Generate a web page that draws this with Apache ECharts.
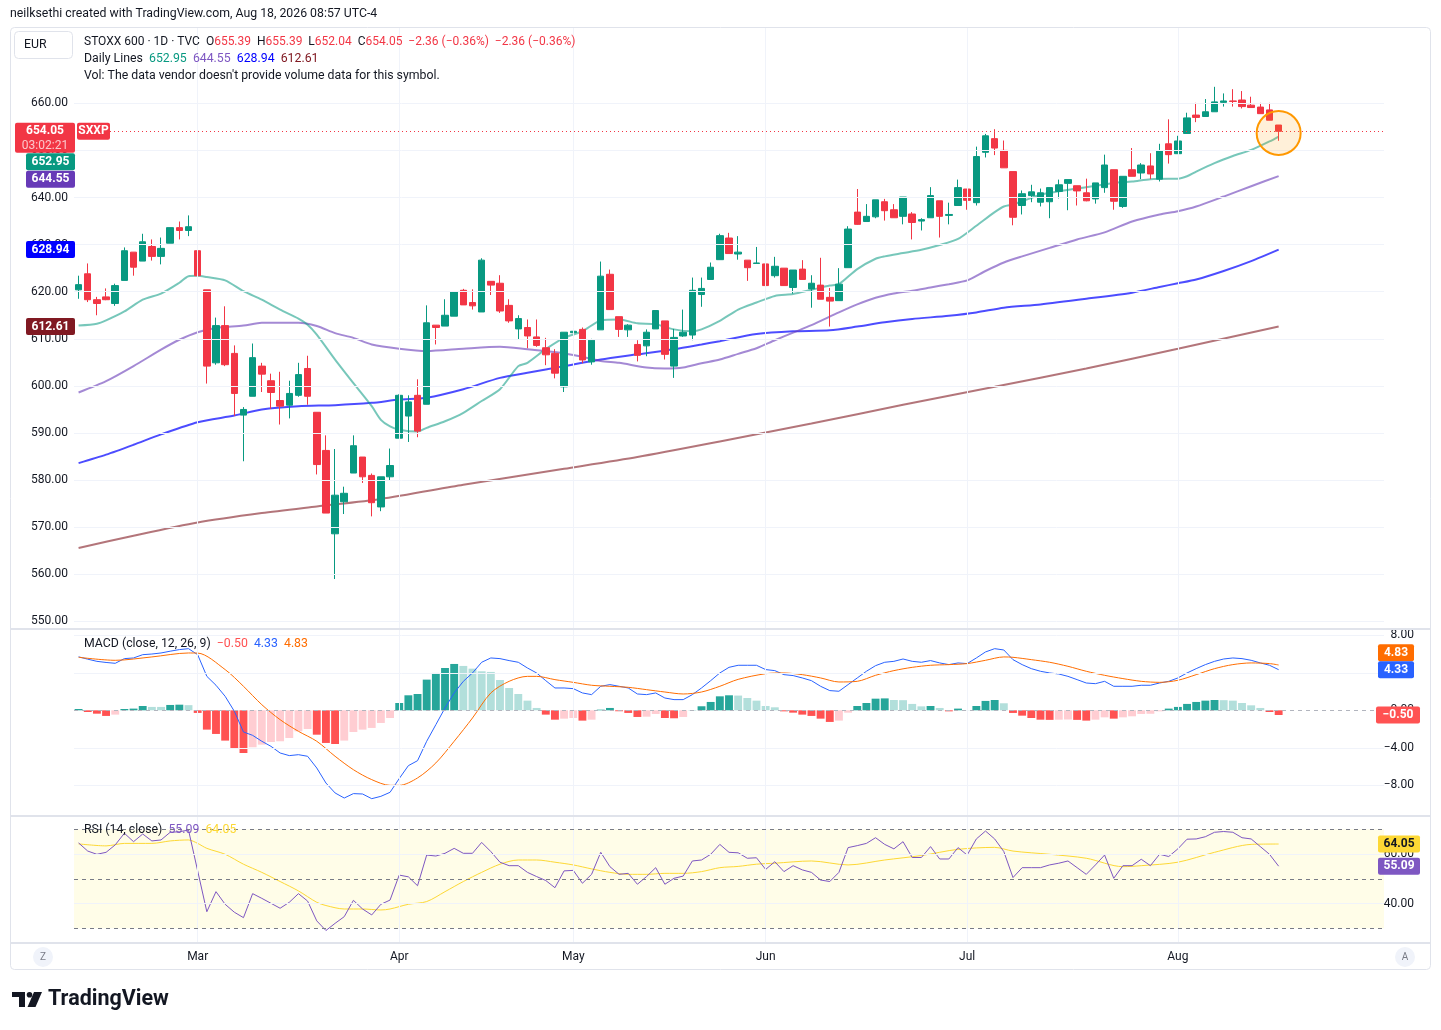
<!DOCTYPE html>
<html>
<head>
<meta charset="utf-8">
<title>STOXX 600 · 1D · TVC</title>
<script src="https://cdn.jsdelivr.net/npm/echarts@6/dist/echarts.min.js"></script>
<style>
html, body { margin: 0; padding: 0; background: #fff; }
#chart { width: 1441px; height: 1030px; }
</style>
</head>
<body>
<div id="chart"></div>
<script>
// bars per month on the time axis (Feb 11 .. Aug 18), plus empty space on the right
var monthNames = ['Feb', 'Mar', 'Apr', 'May', 'Jun', 'Jul', 'Aug'];
var monthBars = [13, 22, 19, 21, 22, 23, 12];
var emptySlots = 11;

var openP = [620.4,623.8,618.3,618.9,617.5,622.4,628.4,626.5,629.6,627.5,630.3,633.6,633.0,628.7,620.4,604.9,612.8,606.9,593.8,597.8,
  604.2,601.1,596.9,595.9,598.0,603.7,594.4,586.3,568.6,575.4,581.5,584.9,581.0,574.3,580.7,588.9,593.6,598.0,596.1,612.9,
  612.7,614.8,620.3,617.7,615.7,622.2,621.8,617.1,612.1,612.4,610.4,608.1,606.9,599.8,611.3,612.0,605.1,611.9,623.7,614.7,
  611.9,608.8,608.5,612.1,613.8,604.2,610.6,610.8,619.4,622.6,626.8,631.4,628.0,626.7,626.0,625.9,623.4,625.0,620.9,624.8,
  620.6,621.4,618.8,618.1,625.1,636.9,634.9,635.9,639.1,637.4,636.0,636.5,635.0,635.7,639.3,636.2,638.3,641.8,638.9,649.6,
  652.5,650.0,645.5,638.3,640.4,639.0,639.1,641.3,643.0,642.5,641.0,639.7,642.1,645.9,638.1,645.9,645.2,646.7,643.9,651.4,
  649.3,653.6,657.5,657.2,658.2,660.2,660.5,660.7,659.6,659.2,658.6,655.39];
var highP = [623.4,626.0,618.9,620.7,621.7,629.4,628.4,632.3,631.1,631.5,633.6,634.9,636.2,628.7,620.4,614.5,616.9,608.6,595.5,609.0,
  604.9,602.6,603.0,601.1,604.9,606.4,594.4,589.5,586.6,578.6,589.5,584.9,581.4,580.7,586.7,598.2,598.0,601.4,617.1,612.9,
  618.4,620.0,620.6,620.5,627.1,622.2,623.5,618.4,615.0,614.1,614.1,610.2,607.8,611.4,611.6,612.4,610.0,626.4,624.7,614.7,
  613.1,609.7,612.0,616.0,613.8,612.1,616.2,623.0,623.0,626.2,632.3,632.5,631.8,626.7,629.5,626.1,627.4,625.0,624.6,626.7,
  623.5,627.2,620.8,625.0,633.9,641.8,638.6,639.5,639.7,638.6,640.1,636.9,635.6,642.2,639.3,638.9,643.8,641.8,650.8,653.5,
  654.5,652.1,645.5,641.5,642.7,641.9,642.1,643.8,643.8,642.5,644.0,643.1,649.1,645.9,644.5,650.5,647.3,649.4,651.4,656.6,
  653.1,658.0,660.1,660.9,663.5,662.1,663.0,662.6,661.4,660.1,660.1,655.39];
var lowP = [618.5,617.8,615.0,618.2,617.0,622.4,623.4,626.5,626.6,625.8,630.3,631.1,631.8,621.3,600.5,604.5,604.2,593.6,584.0,597.8,
  598.7,595.1,591.8,593.1,597.7,596.0,581.2,573.0,559.0,572.8,581.5,579.4,572.3,573.4,580.0,588.9,588.1,589.1,596.1,608.8,
  612.7,614.8,617.2,616.2,615.7,619.3,615.5,613.4,609.9,608.0,608.3,604.4,601.6,598.7,610.4,604.8,604.5,611.9,616.2,610.4,
  610.4,605.2,606.3,612.1,605.6,601.7,610.4,609.7,616.8,622.6,626.8,628.1,626.8,622.3,626.0,619.0,623.0,621.3,619.6,622.6,
  616.6,618.4,612.6,618.1,625.1,634.2,634.9,635.6,635.1,635.7,634.3,631.1,633.0,635.7,631.5,634.3,638.3,637.4,638.3,648.5,
  649.0,646.3,634.1,636.4,639.0,638.1,635.6,639.8,637.3,638.3,639.2,638.7,641.0,637.4,637.8,644.5,643.9,643.9,643.4,647.2,
  649.3,653.6,656.0,657.2,658.2,659.3,659.3,658.9,659.1,657.8,656.4,652.04];
var closeP = [621.5,618.3,617.5,618.3,621.3,628.7,625.2,630.6,627.5,629.2,633.6,633.0,633.8,623.4,604.2,612.8,604.5,598.4,595.0,606.0,
  602.5,598.6,595.7,598.4,602.4,597.8,583.3,573.0,576.8,577.2,587.3,580.7,575.2,580.7,583.1,598.0,596.6,590.4,613.4,612.4,
  615.0,620.0,617.2,617.0,626.7,621.4,615.9,613.8,614.3,610.6,608.6,606.6,602.7,611.4,611.6,605.5,609.7,623.3,616.2,612.0,
  612.9,606.5,611.4,616.0,606.7,610.3,611.4,620.3,620.7,625.2,631.9,628.1,628.4,625.1,626.1,621.3,625.4,621.3,624.6,622.6,
  621.8,618.4,618.0,621.6,633.3,634.3,636.0,639.5,637.2,635.7,640.1,634.7,635.3,640.4,636.0,636.4,642.1,639.4,648.7,653.1,
  650.5,646.3,635.8,640.8,641.2,641.0,642.1,642.7,643.8,641.4,639.3,643.1,646.9,639.2,644.5,644.5,646.9,645.0,649.9,649.1,
  652.0,656.9,657.0,658.2,660.3,660.5,660.4,659.3,659.1,657.8,656.41,654.05];

// daily moving-average lines, read as [bar, price]
var ma20Pts = [[0,612.8],[2,613.2],[3,613.9],[5,615.8],[7,618.3],[9,619.6],[11,621.9],[12,623.3],[13,623.4],[14,623.1],[16,622.4],
  [18,620.1],[20,618.3],[22,616.2],[24,614.3],[25,613.0],[26,610.9],[28,605.6],[30,600.6],[32,595.7],[33,592.8],[34,591.4],
  [35,590.7],[37,590.3],[38,591.1],[40,592.5],[42,594.3],[44,596.8],[46,599.3],[48,604.2],[49,604.9],[51,607.8],[53,610.2],
  [55,611.6],[57,613.9],[59,614.1],[61,613.3],[63,613.1],[65,612.0],[67,611.6],[68,612.0],[70,613.8],[72,616.2],[74,617.7],
  [76,619.1],[78,619.5],[80,620.4],[82,621.3],[83,621.6],[85,624.8],[87,627.0],[88,627.5],[90,628.2],[92,628.9],[94,629.9],
  [96,631.2],[98,634.0],[100,636.9],[101,638.1],[102,638.5],[103,639.2],[105,640.6],[107,641.3],[109,641.9],[111,642.5],
  [113,643.1],[115,643.4],[117,643.9],[119,644.0],[120,644.0],[121,644.5],[122,645.5],[124,647.3],[126,648.8],[128,650.1],
  [130,651.9],[131,652.95]];
var ma50Pts = [[0,598.6],[3,601.0],[6,604.2],[9,607.7],[11,609.8],[13,611.4],[15,612.3],[18,612.8],[20,613.4],[24,613.4],[26,612.7],
  [28,611.2],[30,610.2],[32,608.8],[35,607.9],[38,607.4],[42,607.9],[46,608.3],[49,607.8],[51,607.4],[53,606.9],[55,606.2],
  [57,605.3],[59,604.9],[62,603.9],[64,603.7],[66,603.9],[68,604.8],[70,605.6],[72,606.8],[74,608.0],[76,609.7],[78,611.3],
  [80,612.9],[83,615.6],[85,617.3],[87,618.7],[89,619.6],[91,620.2],[93,620.9],[95,621.6],[97,622.4],[99,624.4],[101,626.2],
  [103,627.5],[106,629.3],[109,631.1],[112,632.6],[115,634.9],[118,636.4],[120,637.1],[122,638.1],[125,640.2],[128,642.4],
  [131,644.55]];
var ma100Pts = [[0,583.6],[3,585.4],[6,587.5],[9,589.7],[13,592.3],[17,593.7],[20,595.0],[24,595.7],[28,595.9],[32,596.4],[35,597.1],
  [38,597.5],[42,599.3],[46,601.7],[49,602.8],[53,604.2],[57,605.6],[61,606.7],[65,607.8],[68,608.8],[70,609.5],[74,611.0],
  [78,611.6],[82,611.8],[85,612.6],[88,613.5],[91,614.2],[95,614.9],[98,615.6],[101,616.6],[105,617.3],[110,618.5],[115,619.8],
  [118,621.0],[120,621.8],[122,622.6],[125,624.4],[128,626.5],[131,628.94]];
var ma200Pts = [[0,565.6],[6,568.2],[13,571.0],[20,573.0],[26,574.4],[33,576.0],[42,579.0],[53,582.4],[61,584.9],[70,588.2],
  [80,592.0],[90,596.0],[100,599.8],[110,603.7],[120,607.9],[131,612.61]];

// MACD (12, 26, 9)
var macdHist = [0.14,-0.18,-0.36,-0.6,-0.46,0.14,0.18,0.46,0.36,0.36,0.57,0.6,0.55,-0.28,-2.06,-2.52,-3.23,-4.02,-4.55,-3.94,
  -3.66,-3.38,-3.3,-2.95,-2.24,-1.99,-2.6,-3.48,-3.59,-3.23,-2.31,-2.06,-1.88,-1.35,-0.82,0.78,1.6,1.74,3.27,3.98,
  4.51,4.94,4.73,4.44,4.16,4.09,3.23,2.38,1.74,1.03,0.25,-0.46,-1.0,-0.89,-0.82,-1.1,-1.0,0.07,0.25,-0.1,
  -0.28,-0.71,-0.68,-0.39,-0.82,-0.85,-0.71,0.02,0.43,0.89,1.49,1.6,1.57,1.31,1.03,0.46,0.32,-0.11,-0.25,-0.46,
  -0.6,-0.89,-1.24,-1.1,-0.25,0.46,0.78,1.24,1.27,1.1,1.08,0.68,0.42,0.46,0.25,-0.11,0.18,0.02,0.46,1.0,
  1.1,0.75,-0.28,-0.57,-0.82,-1.0,-1.02,-1.0,-0.98,-1.02,-1.1,-1.0,-0.75,-0.89,-0.75,-0.64,-0.39,-0.37,-0.11,0.18,
  0.36,0.68,0.89,1.03,1.1,1.08,1.03,0.78,0.53,0.25,-0.18,-0.50];
var macdLine = [5.7,5.45,5.22,5.1,5.01,5.51,5.58,5.93,6.0,6.11,6.3,6.47,6.57,5.93,3.62,2.67,1.49,-0.1,-2.31,-2.67,
  -3.3,-3.84,-4.55,-4.83,-4.73,-4.9,-6.15,-7.75,-8.81,-9.35,-8.88,-8.92,-9.42,-9.17,-8.74,-7.28,-5.9,-5.37,-3.3,-1.53,
  0.25,1.85,3.09,3.98,5.12,5.58,5.51,5.3,5.12,4.51,3.98,3.16,2.38,2.38,2.31,1.85,1.67,2.56,2.74,2.56,
  2.38,1.74,1.67,1.85,1.31,1.14,1.14,1.67,2.38,3.16,3.98,4.58,4.8,4.8,4.8,4.34,4.23,3.8,3.7,3.45,
  3.16,2.56,2.1,2.03,2.74,3.45,4.16,4.76,5.12,5.22,5.47,5.22,5.12,5.3,5.05,4.87,5.05,4.98,5.58,6.22,
  6.57,6.43,5.4,4.87,4.44,4.16,3.98,3.87,3.62,3.27,2.91,2.84,3.09,2.56,2.56,2.56,2.67,2.67,2.91,3.09,
  3.45,3.98,4.44,4.87,5.22,5.47,5.58,5.51,5.33,5.05,4.8,4.33];
var signalPts = [[0,5.65],[4,5.33],[8,5.69],[12,6.11],[13,6.1],[16,4.34],[18,2.56],[20,0.6],[22,-1.0],[24,-2.24],[26,-3.3],
  [28,-4.9],[30,-6.33],[32,-7.39],[34,-8.0],[35,-8.0],[37,-7.21],[39,-5.61],[41,-3.3],[43,-0.82],[45,1.85],[47,3.09],
  [49,3.62],[50,3.62],[52,3.27],[54,2.98],[56,2.67],[58,2.56],[60,2.45],[62,2.2],[64,1.95],[66,1.74],[68,1.95],[70,2.56],
  [72,3.3],[75,3.9],[77,3.98],[79,3.8],[81,3.45],[83,3.02],[85,3.09],[87,3.73],[89,4.23],[91,4.58],[93,4.8],[95,4.87],
  [97,4.98],[99,5.33],[101,5.69],[102,5.65],[104,5.4],[106,5.12],[108,4.69],[110,4.16],[112,3.73],[114,3.38],[116,3.09],
  [118,2.98],[120,3.2],[122,3.8],[124,4.44],[126,4.87],[128,5.05],[130,4.98],[131,4.83]];

// RSI (14) and its moving average
var rsiLine = [64.5,61.2,59.9,60.7,63.7,68.4,65.0,68.1,65.3,65.7,68.8,69.0,69.7,53.2,36.7,44.8,39.7,36.5,34.3,44.0,
  42.1,40.1,38.1,40.5,44.0,41.0,33.0,29.1,32.0,34.7,41.3,37.8,35.4,39.7,41.4,51.5,50.8,47.2,59.6,59.2,
  60.3,62.3,60.3,60.3,64.7,61.0,56.7,55.3,55.3,52.6,50.9,49.3,46.4,53.2,53.4,48.2,51.8,60.7,54.9,51.8,
  52.2,47.8,50.9,54.5,47.8,50.2,51.1,57.2,57.6,59.9,63.9,60.7,60.5,58.3,58.5,53.8,56.9,52.9,55.3,53.6,
  52.6,49.5,48.9,52.6,62.6,63.4,64.3,66.6,63.9,62.1,65.0,58.6,58.6,63.0,58.0,58.0,62.6,59.6,66.1,69.3,
  66.1,61.0,50.5,54.5,54.5,54.5,55.6,56.3,57.2,54.5,51.8,55.6,59.6,50.2,55.3,55.3,57.9,55.3,59.9,59.0,
  62.1,66.0,66.1,67.0,68.8,69.1,68.8,66.6,66.1,63.0,59.9,55.09];
var rsiMaPts = [[0,64.1],[3,63.3],[5,64.3],[8,64.3],[10,65.3],[12,65.7],[13,64.3],[14,62.3],[16,59.9],[18,55.9],[20,52.6],
  [22,48.9],[24,45.1],[26,40.5],[27,39.2],[29,37.8],[31,37.8],[33,37.4],[34,37.8],[36,39.7],[38,40.8],[40,44.8],[42,48.9],
  [44,52.6],[46,55.9],[48,57.6],[50,57.6],[52,56.7],[54,55.6],[56,54.0],[58,52.6],[60,51.8],[62,51.8],[64,52.2],[66,52.2],
  [68,52.9],[70,54.5],[72,55.0],[74,55.9],[76,56.3],[80,57.2],[84,55.6],[88,57.6],[92,59.4],[96,61.9],[100,62.7],
  [102,61.2],[106,59.9],[110,58.3],[114,54.9],[116,55.3],[120,56.7],[124,60.7],[128,63.9],[131,64.05]];

// axis ticks
var priceTicks = [550, 560, 570, 580, 590, 600, 610, 620, 630, 640, 650, 660];
var macdTicks = [8, 4, 0, -4, -8];
var rsiTicks = [60, 40];

var FONT = 'Roboto, "Liberation Sans", sans-serif';
var LEG = '12.3px ' + FONT;
var TXT = '#131722';
var UP = '#089981', DOWN = '#f23645';

var categories = [];
var monthStarts = [];
(function () {
    for (var m = 0; m < monthNames.length; m++) {
        if (m > 0) monthStarts.push(categories.length);
        for (var k = 1; k <= monthBars[m]; k++) categories.push(monthNames[m] + ' ' + k);
    }
    for (var e = 1; e <= emptySlots; e++) categories.push('next ' + e);
})();

function fmt(v) {
    return (v < 0 ? '\u2212' : '') + Math.abs(v).toFixed(2);
}

function histColor(i) {
    var v = macdHist[i], p = i > 0 ? macdHist[i - 1] : 0;
    if (v >= 0) return p < v ? '#26a69a' : '#b2dfdb';
    return p < v ? '#ffcdd2' : '#ff5252';
}

function gridLines(values, months) {
    var d = [];
    values.forEach(function (v) { d.push({ yAxis: v }); });
    if (months) monthStarts.forEach(function (i) { d.push({ xAxis: categories[i] }); });
    return d;
}

var candleData = openP.map(function (o, i) {
    return [o, closeP[i], lowP[i], highP[i]];
});
var histData = macdHist.map(function (v, i) {
    return { value: v, itemStyle: { color: histColor(i) } };
});

function maLine(name, pts, color) {
    return {
        name: name, type: 'line', xAxisIndex: 0, yAxisIndex: 0, z: 2,
        data: pts, showSymbol: false, smooth: 0.25,
        lineStyle: { color: color, width: 2 }
    };
}

var gridLineStyle = { color: '#f0f3fa', width: 1, type: 'solid' };

var option = {
    animation: false,
    textStyle: { fontFamily: FONT },
    grid: [
        { left: 74, width: 1310, top: 27, height: 601 },
        { left: 74, width: 1310, top: 630, height: 185 },
        { left: 74, width: 1310, top: 817, height: 125 }
    ],
    xAxis: [0, 1, 2].map(function (g) {
        return {
            type: 'category', gridIndex: g, data: categories, boundaryGap: true,
            axisLine: { show: false }, axisTick: { show: false }, splitLine: { show: false },
            axisLabel: {
                show: g === 2, color: TXT, fontSize: 12, margin: 9,
                interval: function (index) { return monthStarts.indexOf(index) >= 0; },
                formatter: function (v) { return v.split(' ')[0]; }
            }
        };
    }),
    yAxis: [
        {
            gridIndex: 0, type: 'value', position: 'left', min: 548.6, max: 676.2,
            axisLine: { show: false }, axisTick: { show: false }, splitLine: { show: false },
            axisLabel: { customValues: priceTicks, formatter: fmt, color: TXT, fontSize: 12, margin: 6 }
        },
        {
            gridIndex: 1, type: 'value', position: 'right', min: -11.16, max: 8.56,
            axisLine: { show: false }, axisTick: { show: false }, splitLine: { show: false },
            axisLabel: { customValues: macdTicks, formatter: fmt, color: TXT, fontSize: 12, align: 'right', margin: 30 }
        },
        {
            gridIndex: 2, type: 'value', position: 'right', min: 24.46, max: 74.97,
            axisLine: { show: false }, axisTick: { show: false }, splitLine: { show: false },
            axisLabel: { customValues: rsiTicks, formatter: fmt, color: TXT, fontSize: 12, align: 'right', margin: 30 }
        }
    ],
    series: [
        {
            type: 'line', xAxisIndex: 0, yAxisIndex: 0, data: [], z: 1,
            markLine: { silent: true, symbol: 'none', label: { show: false }, lineStyle: gridLineStyle, data: gridLines(priceTicks, true) }
        },
        maLine('MA200', ma200Pts, 'rgba(128,25,34,0.6)'),
        maLine('MA100', ma100Pts, 'rgba(0,0,255,0.7)'),
        maLine('MA50', ma50Pts, 'rgba(103,58,183,0.6)'),
        maLine('MA20', ma20Pts, 'rgba(8,153,129,0.55)'),
        {
            name: 'SXXP', type: 'candlestick', xAxisIndex: 0, yAxisIndex: 0, z: 3,
            data: candleData, barWidth: 7,
            itemStyle: { color: UP, color0: DOWN, borderColor: UP, borderColor0: DOWN, borderWidth: 1 },
            markLine: {
                silent: true, symbol: 'none', label: { show: false },
                lineStyle: { color: DOWN, width: 1, type: [1, 3] },
                data: [{ yAxis: closeP[closeP.length - 1] }]
            }
        },
        // MACD pane
        {
            type: 'line', xAxisIndex: 1, yAxisIndex: 1, data: [], z: 1,
            markLine: {
                silent: true, symbol: 'none', label: { show: false }, lineStyle: gridLineStyle,
                data: gridLines([8, 4, -4, -8], true).concat([{ yAxis: 0, lineStyle: { color: '#b2b5be', type: [4, 4] } }])
            }
        },
        { name: 'Histogram', type: 'bar', xAxisIndex: 1, yAxisIndex: 1, data: histData, barWidth: '86%', z: 2 },
        {
            name: 'MACD', type: 'line', xAxisIndex: 1, yAxisIndex: 1, data: macdLine, z: 3,
            showSymbol: false, lineStyle: { color: '#2962ff', width: 1 }
        },
        {
            name: 'Signal', type: 'line', xAxisIndex: 1, yAxisIndex: 1, data: signalPts, z: 3,
            showSymbol: false, smooth: 0.3, lineStyle: { color: '#ff6d00', width: 1 }
        },
        // RSI pane
        {
            type: 'line', xAxisIndex: 2, yAxisIndex: 2, data: [], z: 1,
            markArea: { silent: true, itemStyle: { color: '#fffde8' }, data: [[{ yAxis: 30 }, { yAxis: 70 }]] },
            markLine: {
                silent: true, symbol: 'none', label: { show: false }, lineStyle: gridLineStyle,
                data: gridLines(rsiTicks, true).concat([70, 50, 30].map(function (v) {
                    return { yAxis: v, lineStyle: { color: '#787b86', type: [4, 4] } };
                }))
            }
        },
        {
            name: 'RSI-based MA', type: 'line', xAxisIndex: 2, yAxisIndex: 2, data: rsiMaPts, z: 2,
            showSymbol: false, smooth: 0.3, lineStyle: { color: '#fdd835', width: 1 }
        },
        {
            name: 'RSI', type: 'line', xAxisIndex: 2, yAxisIndex: 2, data: rsiLine, z: 3,
            showSymbol: false, lineStyle: { color: '#7e57c2', width: 1 }
        }
    ]
};

var chart = echarts.init(document.getElementById('chart'), null, { renderer: 'canvas' });
chart.setOption(option);

// ---- texts, frame and axis tags ----
function txt(x, y, text, style) {
    var s = { x: x, y: y, text: text, fill: TXT, font: LEG, textVerticalAlign: 'middle' };
    for (var k in style) s[k] = style[k];
    return { type: 'text', z: 100, style: s };
}
function rich(x, y, text, colors, font) {
    var f = font || LEG;
    var r = {};
    for (var k in colors) r[k] = { fill: colors[k], font: f };
    return { type: 'text', z: 100, style: { x: x, y: y, textVerticalAlign: 'middle', font: f, fill: TXT, text: text, rich: r } };
}
function tag(x, yc, w, h, color, label, textColor) {
    return {
        type: 'group', z: 110, children: [
            { type: 'rect', z: 110, shape: { x: x, y: yc - h / 2, width: w, height: h, r: 2 }, style: { fill: color } },
            { type: 'text', z: 111, style: { x: x + w / 2, y: yc, text: label, fill: textColor || '#fff', font: 'bold 12px ' + FONT, textAlign: 'center', textVerticalAlign: 'middle' } }
        ]
    };
}
function hline(y) {
    return { type: 'line', z: 90, shape: { x1: 10, y1: y, x2: 1431, y2: y }, style: { stroke: '#e0e3eb', lineWidth: 2 } };
}
function py(axis, v) { return chart.convertToPixel({ yAxisIndex: axis }, v); }

var last = closeP.length - 1;
var graphics = [
    txt(10, 14, 'neilksethi created with TradingView.com, Aug 18, 2026 08:57 UTC-4', {}),
    { type: 'rect', z: 90, shape: { x: 10.5, y: 27.5, width: 1420, height: 942, r: 4 }, style: { fill: 'none', stroke: '#e0e3eb', lineWidth: 1 } },
    hline(629), hline(816), hline(943),
    { type: 'rect', z: 100, shape: { x: 14.5, y: 31.5, width: 58, height: 27, r: 4 }, style: { fill: '#fff', stroke: '#e0e3eb' } },
    txt(24, 45, 'EUR', {}),
    rich(84, 42, '{k|STOXX 600 · 1D · TVC}  {k|O}{r|655.39}  {k|H}{r|655.39}  {k|L}{r|652.04}  {k|C}{r|654.05}  {r|\u22122.36 (\u22120.36%)}  {r|\u22122.36 (\u22120.36%)}',
        { k: TXT, r: DOWN }, '12px ' + FONT),
    rich(84, 59, '{k|Daily Lines}  {a|652.95}  {b|644.55}  {c|628.94}  {d|612.61}',
        { k: TXT, a: UP, b: '#7e57c2', c: '#0000ff', d: '#801922' }),
    txt(84, 76, 'Vol: The data vendor doesn\'t provide volume data for this symbol.', {}),
    rich(84, 644, '{k|MACD (close, 12, 26, 9)}  {a|\u22120.50}  {b|4.33}  {c|4.83}',
        { k: TXT, a: '#ff5252', b: '#2962ff', c: '#ff6d00' }),
    rich(84, 830, '{k|RSI (14, close)}  {a|55.09}  {b|64.05}',
        { k: TXT, a: '#7e57c2', b: '#fdd835' }),
    // Z and A buttons on the time axis
    { type: 'circle', z: 100, shape: { cx: 43, cy: 957, r: 10 }, style: { fill: '#f0f3fa' } },
    txt(43, 957, 'Z', { textAlign: 'center', fill: '#787b86', font: '10px ' + FONT }),
    { type: 'circle', z: 100, shape: { cx: 1405, cy: 957, r: 10 }, style: { fill: '#f0f3fa' } },
    txt(1405, 957, 'A', { textAlign: 'center', fill: '#787b86', font: '10px ' + FONT }),
    // TradingView logo
    { type: 'rect', z: 100, shape: { x: 12, y: 992, width: 13, height: 5 }, style: { fill: TXT } },
    { type: 'rect', z: 100, shape: { x: 19, y: 992, width: 6, height: 15 }, style: { fill: TXT } },
    { type: 'circle', z: 100, shape: { cx: 29.5, cy: 994.8, r: 2.8 }, style: { fill: TXT } },
    { type: 'polygon', z: 100, shape: { points: [[34, 992], [42, 992], [35.5, 1007], [27.5, 1007]] }, style: { fill: TXT } },
    txt(48, 1000, 'TradingView', { font: 'bold 21.5px ' + FONT })
];

// main pane tags on the left, stacked where they would overlap
var lastY = py(0, closeP[last]);
graphics.push({
    type: 'group', z: 110, children: [
        { type: 'rect', z: 110, shape: { x: 15, y: lastY - 8.5, width: 60, height: 30, r: 2 }, style: { fill: DOWN } },
        { type: 'text', z: 111, style: { x: 45, y: lastY, text: fmt(closeP[last]), fill: '#fff', font: 'bold 12px ' + FONT, textAlign: 'center', textVerticalAlign: 'middle' } },
        { type: 'text', z: 111, style: { x: 45, y: lastY + 14.5, text: '03:02:21', fill: 'rgba(255,255,255,0.72)', font: '12px ' + FONT, textAlign: 'center', textVerticalAlign: 'middle' } }
    ]
});
graphics.push(tag(77, lastY, 33, 17, DOWN, 'SXXP'));
var maTags = [
    [ma20Pts[ma20Pts.length - 1][1], UP],
    [ma50Pts[ma50Pts.length - 1][1], '#673ab7'],
    [ma100Pts[ma100Pts.length - 1][1], '#0000ff'],
    [ma200Pts[ma200Pts.length - 1][1], '#801922']
];
var bottom = lastY - 8.5 + 30;
maTags.forEach(function (t) {
    var yc = Math.max(py(0, t[0]), bottom + 9);
    graphics.push(tag(26, yc, 49, 17, t[1], fmt(t[0])));
    bottom = yc + 8.5;
});

// right-hand tags for MACD and RSI
var macdLast = macdLine[last], sigLast = signalPts[signalPts.length - 1][1], histLast = macdHist[last];
var yMacd = py(1, macdLast);
var ySig = Math.min(py(1, sigLast), yMacd - 17);
graphics.push(tag(1378, ySig, 36, 17, '#ff6d00', fmt(sigLast)));
graphics.push(tag(1378, yMacd, 36, 17, '#2962ff', fmt(macdLast)));
graphics.push(tag(1376, py(1, histLast), 44, 17, '#ff5252', fmt(histLast)));
var rsiLast = rsiLine[last], rsiMaLast = rsiMaPts[rsiMaPts.length - 1][1];
graphics.push(tag(1378, py(2, rsiMaLast), 42, 17, '#fdd835', fmt(rsiMaLast), TXT));
graphics.push(tag(1378, py(2, rsiLast), 42, 17, '#7e57c2', fmt(rsiLast)));

// highlight circle around the last bar
var cx = chart.convertToPixel({ xAxisIndex: 0 }, categories[last]);
var cy = py(0, 653.7);
graphics.push({
    type: 'circle', z: 95, shape: { cx: cx, cy: cy, r: 22 },
    style: { fill: 'rgba(255,152,0,0.15)', stroke: '#ff9800', lineWidth: 2 }
});

chart.setOption({ graphic: graphics });
</script>
</body>
</html>
